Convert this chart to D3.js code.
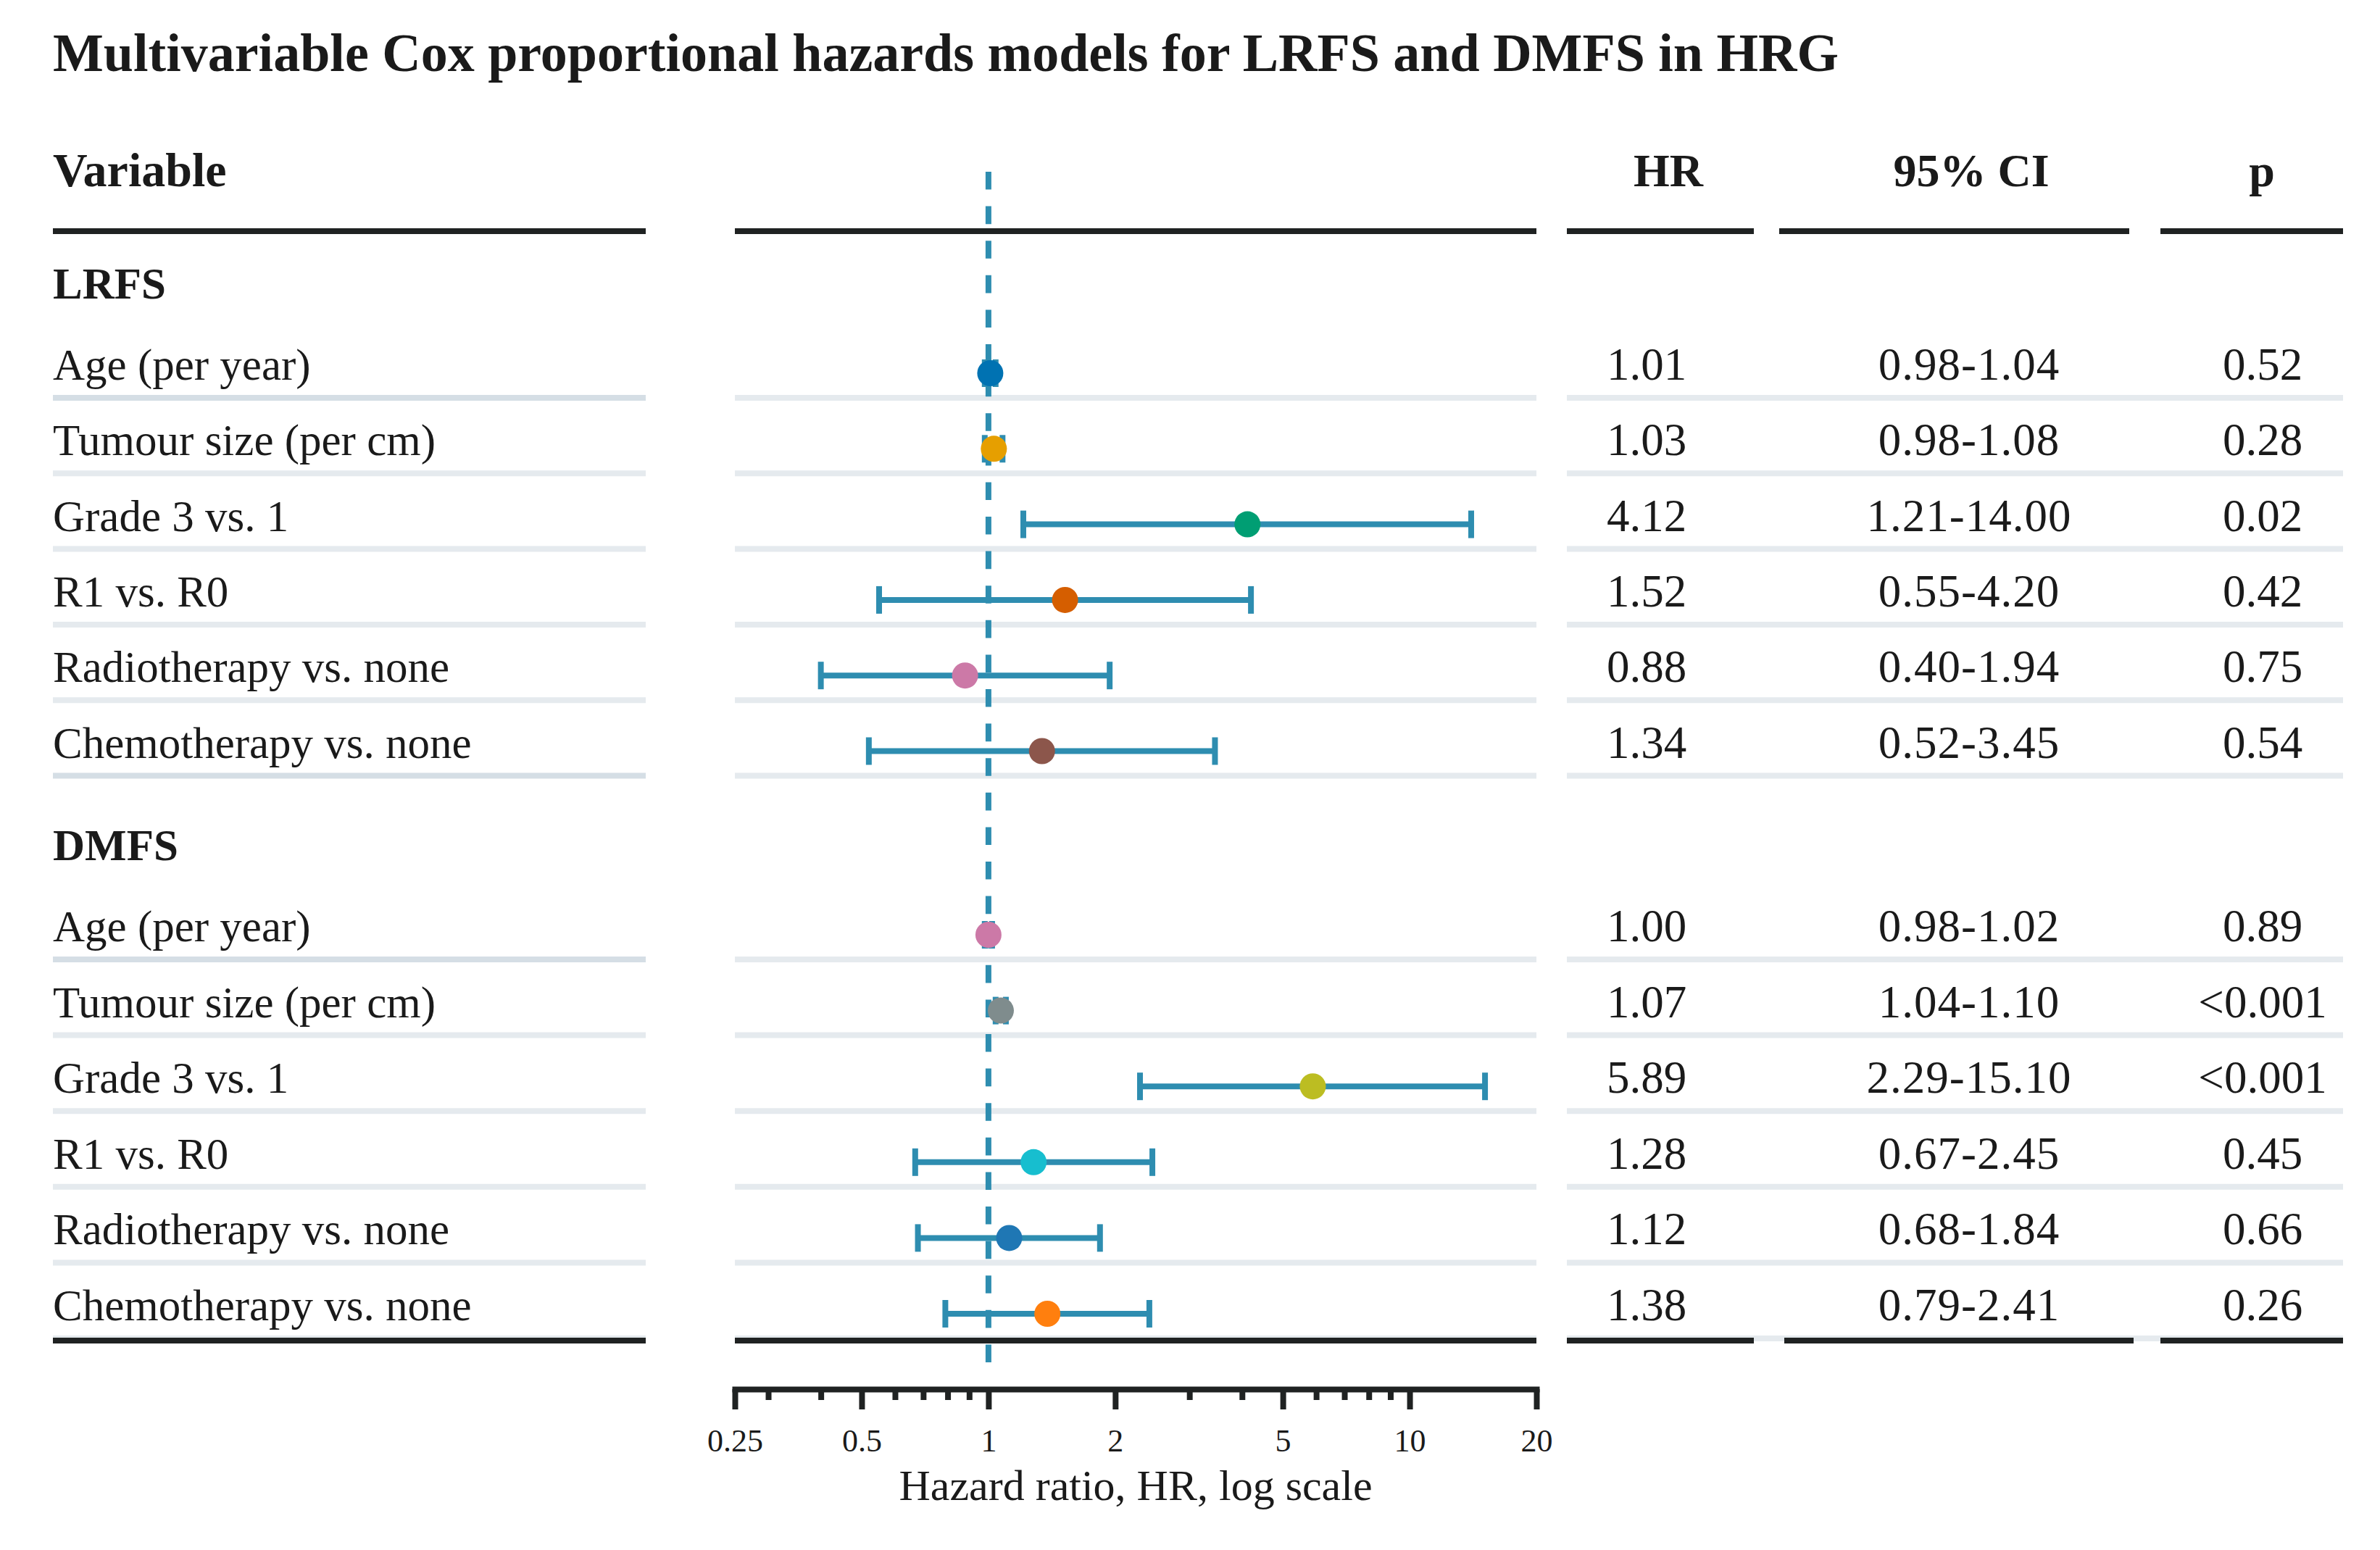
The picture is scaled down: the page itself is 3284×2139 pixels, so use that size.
<!DOCTYPE html>
<html lang="en">

<head>
    <script src='https://d3js.org/d3.v7.min.js'></script>
    <style>
        body { margin: 0; background: #fff; }
        text { font-family: "Liberation Serif", "Times New Roman", serif; fill: #1a1a1a; }
    </style>
</head>

<body>

    <script>
        // values
        const groups = ["LRFS", "DMFS"];
        const variables = ["Age (per year)", "Tumour size (per cm)", "Grade 3 vs. 1", "R1 vs. R0",
                           "Radiotherapy vs. none", "Chemotherapy vs. none"];

        const lrfsHR = [1.01, 1.03, 4.12, 1.52, 0.88, 1.34];
        const lrfsLo = [0.98, 0.98, 1.21, 0.55, 0.40, 0.52];
        const lrfsHi = [1.04, 1.08, 14.00, 4.20, 1.94, 3.45];
        const lrfsP = ["0.52", "0.28", "0.02", "0.42", "0.75", "0.54"];

        const dmfsHR = [1.00, 1.07, 5.89, 1.28, 1.12, 1.38];
        const dmfsLo = [0.98, 1.04, 2.29, 0.67, 0.68, 0.79];
        const dmfsHi = [1.02, 1.10, 15.10, 2.45, 1.84, 2.41];
        const dmfsP = ["0.89", "<0.001", "<0.001", "0.45", "0.66", "0.26"];

        const lrfsColors = ["#0072B2", "#E69F00", "#009E73", "#D55E00", "#CC79A7", "#8C564B"];
        const dmfsColors = ["#CC79A7", "#7F8C8D", "#BCBD22", "#17BECF", "#1F77B4", "#FF7F0E"];

        const majorTicks = [0.25, 0.5, 1, 2, 5, 10, 20];
        const minorTicks = [0.3, 0.4, 0.6, 0.7, 0.8, 0.9, 3, 4, 6, 7, 8, 9];

        const W = 3284, H = 2139;
        const ink = "#1f2222", barColor = "#2E8DB0", sepColor = "#e5eaee", sepDark = "#d5dee5";

        // column extents
        const cols = {
            variable: [73, 891],
            plot: [1014, 2120],
            hr: [2162, 2420],
            ci: [2455, 2938],
            p: [2981, 3233]
        };

        const x = d3.scaleLog().domain([0.25, 20]).range(cols.plot);

        // build rows
        let rows = [];
        const groupFirstSep = [549, 1324];
        const pitch = [104.3, 104.6];
        const src = [
            { hr: lrfsHR, lo: lrfsLo, hi: lrfsHi, p: lrfsP, col: lrfsColors },
            { hr: dmfsHR, lo: dmfsLo, hi: dmfsHi, p: dmfsP, col: dmfsColors }
        ];
        groups.forEach((g, gi) => {
            variables.forEach((v, k) => {
                rows.push({
                    group: g, gi: gi, k: k, label: v,
                    hr: src[gi].hr[k], lo: src[gi].lo[k], hi: src[gi].hi[k],
                    p: src[gi].p[k], color: src[gi].col[k],
                    sep: groupFirstSep[gi] + k * pitch[gi]
                });
            });
        });

        const svg = d3.select("body").append("svg")
            .attr("width", W).attr("height", H);

        // title
        svg.append("text")
            .attr("x", 73).attr("y", 98)
            .attr("font-size", 74).attr("font-weight", "bold")
            .text("Multivariable Cox proportional hazards models for LRFS and DMFS in HRG");

        // header
        const headY = 257;
        svg.append("text").attr("x", 73).attr("y", headY)
            .attr("font-size", 66).attr("font-weight", "bold").text("Variable");
        const headers = [["HR", 2302], ["95% CI", 2720], ["p", 3121]];
        svg.selectAll(".head").data(headers).enter().append("text")
            .attr("class", "head")
            .attr("x", d => d[1]).attr("y", headY)
            .attr("text-anchor", "middle")
            .attr("font-size", 64).attr("font-weight", "bold")
            .text(d => d[0]);

        // header rules
        svg.selectAll(".headrule").data(Object.values(cols)).enter().append("line")
            .attr("x1", d => d[0]).attr("x2", d => d[1])
            .attr("y1", 319).attr("y2", 319)
            .attr("stroke", ink).attr("stroke-width", 8);

        // separators
        const sepSpans = [cols.variable, cols.plot, [cols.hr[0], cols.p[1]]];
        rows.forEach(r => {
            sepSpans.forEach((s, si) => {
                let c = sepColor;
                if (si == 0 && (r.k == 0 || (r.gi == 0 && r.k == 5))) c = sepDark;
                svg.append("line")
                    .attr("x1", s[0]).attr("x2", s[1])
                    .attr("y1", r.sep).attr("y2", r.sep)
                    .attr("stroke", c).attr("stroke-width", 8);
            });
        });

        // bottom rules
        const lastSep = rows[rows.length - 1].sep + 3;
        const bottomSpans = [cols.variable, cols.plot, cols.hr, [2462, 2944], cols.p];
        svg.selectAll(".botrule").data(bottomSpans).enter().append("line")
            .attr("x1", d => d[0]).attr("x2", d => d[1])
            .attr("y1", lastSep).attr("y2", lastSep)
            .attr("stroke", ink).attr("stroke-width", 8);

        // group labels
        groups.forEach((g, gi) => {
            svg.append("text")
                .attr("x", 73).attr("y", groupFirstSep[gi] - 137)
                .attr("font-size", 61).attr("font-weight", "bold")
                .text(g);
        });

        // row texts
        const rowText = svg.append("g");
        rowText.selectAll(".lab").data(rows).enter().append("text")
            .attr("x", 73).attr("y", d => d.sep - 25)
            .attr("font-size", 61).text(d => d.label);
        rowText.selectAll(".hrv").data(rows).enter().append("text")
            .attr("x", 2272).attr("y", d => d.sep - 25)
            .attr("text-anchor", "middle")
            .attr("font-size", 63).text(d => d.hr.toFixed(2));
        rowText.selectAll(".civ").data(rows).enter().append("text")
            .attr("x", 2717).attr("y", d => d.sep - 25)
            .attr("text-anchor", "middle")
            .attr("font-size", 63).attr("letter-spacing", 1)
            .text(d => d.lo.toFixed(2) + "-" + d.hi.toFixed(2));
        rowText.selectAll(".pv").data(rows).enter().append("text")
            .attr("x", 3122).attr("y", d => d.sep - 25)
            .attr("text-anchor", "middle")
            .attr("font-size", 63).text(d => d.p);

        // reference line at HR = 1
        svg.append("line")
            .attr("x1", x(1)).attr("x2", x(1))
            .attr("y1", 237).attr("y2", 1882)
            .attr("stroke", barColor).attr("stroke-width", 8)
            .attr("stroke-dasharray", "24.6,23");

        // error bars
        const bars = svg.append("g");
        rows.forEach(r => {
            const cy = r.sep - 34;
            bars.append("line")
                .attr("x1", x(r.lo)).attr("x2", x(r.hi))
                .attr("y1", cy).attr("y2", cy)
                .attr("stroke", barColor).attr("stroke-width", 8);
            [r.lo, r.hi].forEach(v => {
                bars.append("line")
                    .attr("x1", x(v)).attr("x2", x(v))
                    .attr("y1", cy - 19).attr("y2", cy + 19)
                    .attr("stroke", barColor).attr("stroke-width", 8);
            });
        });
        bars.selectAll("circle").data(rows).enter().append("circle")
            .attr("cx", d => x(d.hr)).attr("cy", d => d.sep - 34)
            .attr("r", 18).attr("fill", d => d.color);

        // axis
        const axisY = 1917;
        const major = svg.append("g")
            .attr("transform", "translate(0," + axisY + ")")
            .call(d3.axisBottom(x).tickValues(majorTicks).tickFormat(d => d)
                .tickSize(28).tickSizeOuter(0));
        major.select(".domain")
            .attr("stroke", ink).attr("stroke-width", 8).attr("stroke-linecap", "square");
        major.selectAll(".tick line").attr("stroke", ink).attr("stroke-width", 8);
        major.selectAll(".tick text")
            .attr("y", 86).attr("dy", 0)
            .attr("font-size", 44)
            .attr("font-family", "Liberation Serif")
            .attr("fill", "#1a1a1a");

        const minor = svg.append("g")
            .attr("transform", "translate(0," + axisY + ")")
            .call(d3.axisBottom(x).tickValues(minorTicks).tickFormat("")
                .tickSize(15).tickSizeOuter(0));
        minor.select(".domain").remove();
        minor.selectAll(".tick line").attr("stroke", ink).attr("stroke-width", 8);

        svg.append("text")
            .attr("x", (cols.plot[0] + cols.plot[1]) / 2).attr("y", 2070)
            .attr("text-anchor", "middle")
            .attr("font-size", 60)
            .text("Hazard ratio, HR, log scale");
    </script>

</body>

</html>
